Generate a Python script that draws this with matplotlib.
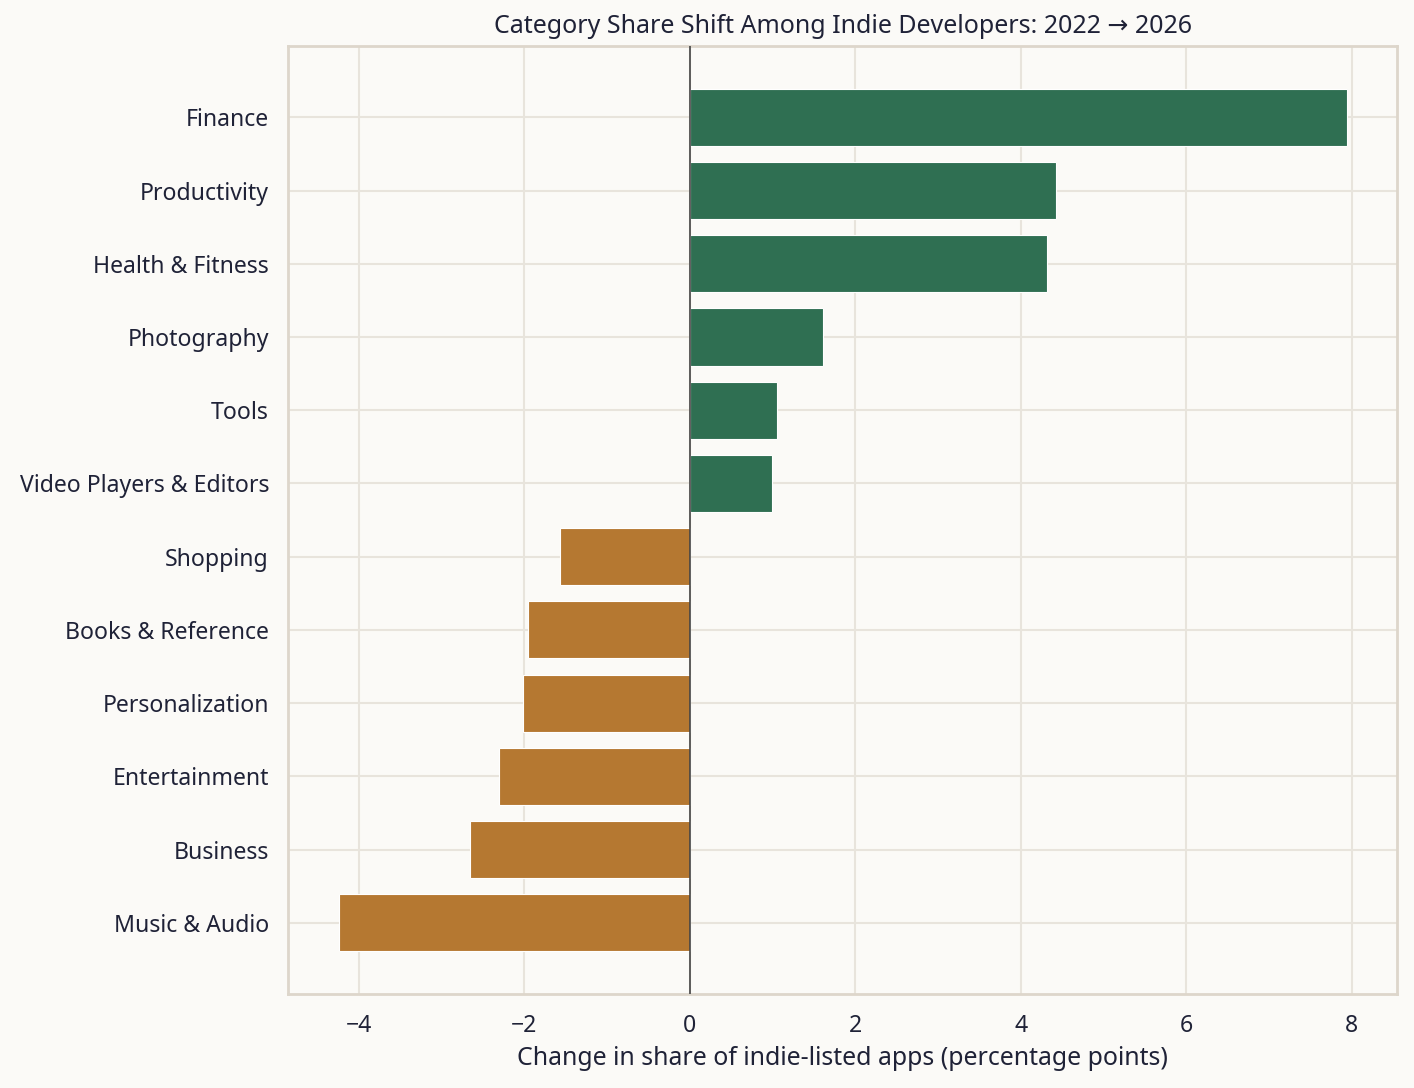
import matplotlib
matplotlib.use('Agg')
import matplotlib.pyplot as plt

categories = [
    'Finance', 'Productivity', 'Health & Fitness', 'Photography', 'Tools',
    'Video Players & Editors', 'Shopping', 'Books & Reference',
    'Personalization', 'Entertainment', 'Business', 'Music & Audio',
]
shift_pp = [7.94, 4.43, 4.32, 1.61, 1.05, 0.99,
            -1.57, -1.95, -2.02, -2.31, -2.66, -4.24]

GREEN = '#2f6f52'
ORANGE = '#b57831'
TEXT = '#1f2237'
BG = '#fbfaf7'

plt.rcParams['font.family'] = ['Noto Sans', 'DejaVu Sans']
plt.rcParams['text.color'] = TEXT
plt.rcParams['axes.labelcolor'] = TEXT
plt.rcParams['xtick.color'] = TEXT
plt.rcParams['ytick.color'] = TEXT

fig, ax = plt.subplots(figsize=(14.14, 10.88), dpi=100)
fig.patch.set_facecolor(BG)
ax.set_facecolor(BG)

ypos = list(range(len(categories)))
colors = [GREEN if v > 0 else ORANGE for v in shift_pp]
ax.barh(ypos, shift_pp, height=0.78, color=colors, edgecolor='white',
        linewidth=0.8, zorder=2)
ax.axvline(0, color='#444444', linewidth=1.2, zorder=3)

ax.set_yticks(ypos)
ax.set_yticklabels(categories)
ax.invert_yaxis()

ax.grid(True, color='#e8e4dc', linewidth=1.5, zorder=0)
ax.set_axisbelow(True)
for s in ax.spines.values():
    s.set_color('#ddd6cb')
    s.set_linewidth(2)
ax.tick_params(length=0, labelsize=16.6)
ax.tick_params(axis='y', pad=14)
ax.tick_params(axis='x', pad=14)

ax.set_title('Category Share Shift Among Indie Developers: 2022 \u2192 2026',
             fontsize=18, pad=9)
ax.set_xlabel('Change in share of indie-listed apps (percentage points)',
              fontsize=17.9, labelpad=6)

plt.subplots_adjust(left=0.204, right=0.988, top=0.958, bottom=0.086)
plt.savefig('out.png', dpi=100, facecolor=BG)
